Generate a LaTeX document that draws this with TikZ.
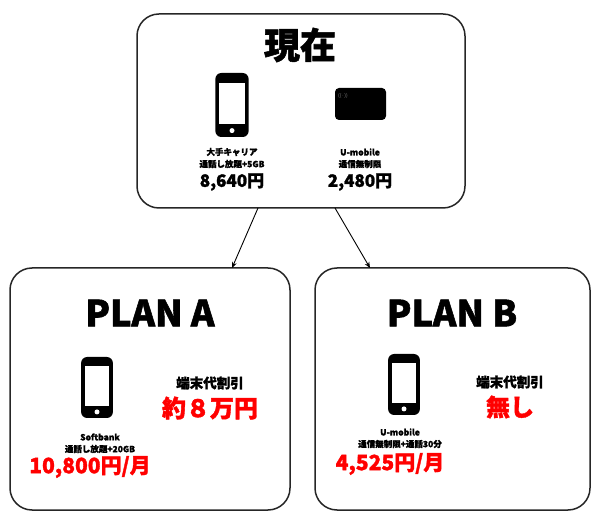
\documentclass[tikz,border=0pt]{standalone}
\usepackage{fontspec}
\setmainfont{Noto Sans CJK JP}[BoldFeatures={FakeBold=1.5}]
\usetikzlibrary{arrows.meta}
\begin{document}
\begin{tikzpicture}[x=1pt,y=-1pt,
  box/.style={draw=black!85,line width=1.5pt,rounded corners=22pt},
  arr/.style={-{Stealth[length=6pt,width=5pt]},line width=0.9pt},
  t/.style={font=\bfseries\fontsize{#1}{#1}\selectfont,inner sep=0pt},
  r/.style={t=#1,text=red}]
\useasboundingbox (0,0) rectangle (600,526);
\newcommand\phone[3]{% center x, top y, height
  \pgfmathsetmacro\w{#3*0.52}
  \fill[black,rounded corners=6pt] ({#1-\w/2},#2) rectangle ({#1+\w/2},{#2+#3});
  \fill[white] ({#1-\w/2+3.5},{#2+#3*0.15}) rectangle ({#1+\w/2-3.5},{#2+#3*0.8});
  \fill[white] (#1,{#2+#3*0.9}) circle (2.5pt);}
\node[box,minimum width=328pt,minimum height=194pt] (top) at (301,111) {};
\node[box,minimum width=280pt,minimum height=242pt] (pa) at (150,389) {};
\node[box,minimum width=275pt,minimum height=242pt] (pb) at (452.5,389) {};
\coordinate (s1) at (258,208); \coordinate (s2) at (335,208);
\coordinate (e1) at (232,268); \coordinate (e2) at (370,268);
\draw[arr] (s1) -- (e1);
\draw[arr] (s2) -- (e2);
\node[t=36] (now) at (300,45) {現在};
\phone{232}{73}{64}
\fill[black,rounded corners=4pt] (335,88) rectangle (386,120);
\node[text=gray,font=\tiny] (ant) at (343,96) {\tiny((·))};
\node[t=8.5] (l1) at (232,152) {大手キャリア};
\node[t=8.5] (l2) at (232,164) {通話し放題+5GB};
\node[t=17] (l3) at (232,182) {8,640円};
\node[t=8.5] (m1) at (360,152) {U-mobile};
\node[t=8.5] (m2) at (360,164) {通信無制限};
\node[t=17] (m3) at (360,182) {2,480円};
\node[t=36] (pat) at (150,313) {PLAN A};
\phone{97}{357}{61}
\node[t=13.5] (a1) at (210,383) {端末代割引};
\node[r=24] (a2) at (210,408) {約８万円};
\node[t=8.5] (a3) at (100,437) {Softbank};
\node[t=8.5] (a4) at (100,449) {通話し放題+20GB};
\node[r=21] (a5) at (90,467) {10,800円/月};
\node[t=36] (pbt) at (452,313) {PLAN B};
\phone{404}{354}{61}
\node[t=13.5] (b1) at (510,382) {端末代割引};
\node[r=24] (b2) at (510,407) {無し};
\node[t=8.5] (b3) at (400,432) {U-mobile};
\node[t=8.5] (b4) at (400,444) {通信無制限+通話30分};
\node[r=21] (b5) at (390,464) {4,525円/月};
\end{tikzpicture}
\end{document}
